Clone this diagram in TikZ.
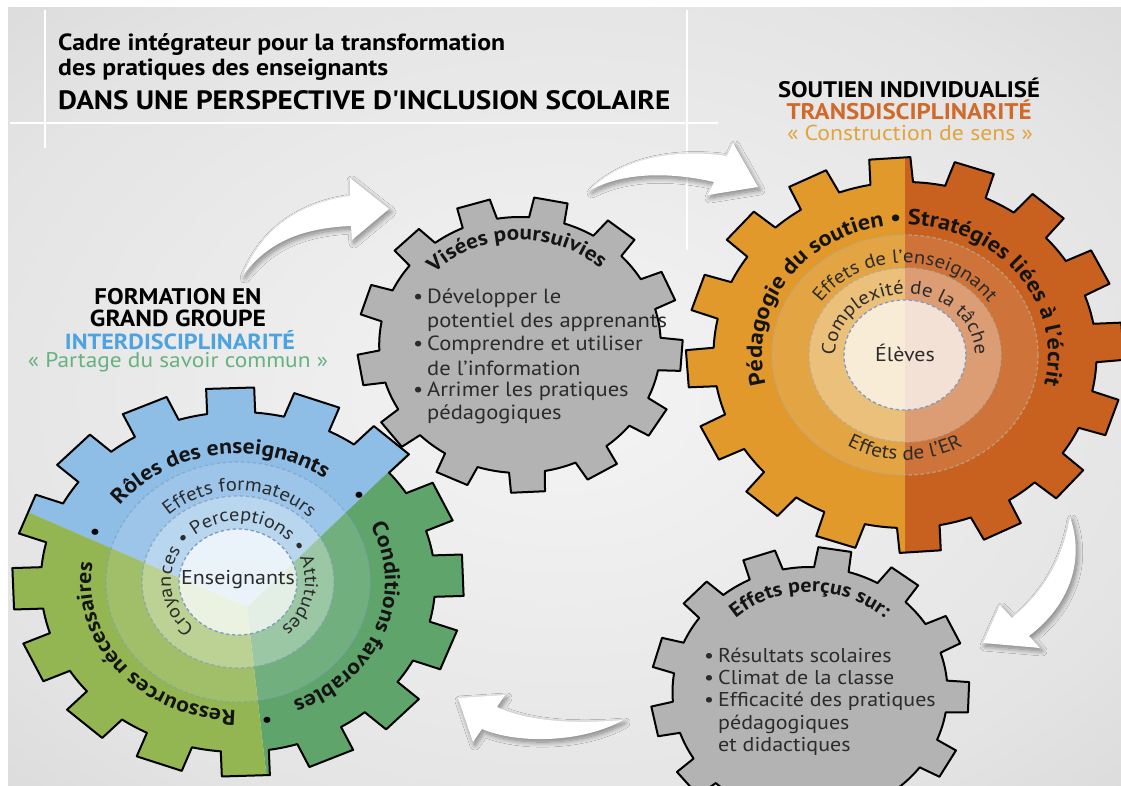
\documentclass[tikz,border=0pt]{standalone}
\usepackage{fontspec}
\setmainfont{PT Sans}[FakeStretch=1.1]
\usetikzlibrary{decorations.text,shadows.blur}
\definecolor{bgin}{HTML}{F4F4F4}
\definecolor{bgmid}{HTML}{E4E4E4}
\definecolor{bgout}{HTML}{CDCDCD}
\definecolor{geargrey}{HTML}{B3B3B3}
\definecolor{orl}{HTML}{E0992A}
\definecolor{orr}{HTML}{C8611F}
\definecolor{gblue}{HTML}{8EBDE6}
\definecolor{glight}{HTML}{93B652}
\definecolor{gdark}{HTML}{5EA46B}
\definecolor{dashblue}{HTML}{7F9CC0}
\definecolor{dashgrey}{HTML}{B8A890}
\definecolor{txtb}{HTML}{141414}
\definecolor{listc}{HTML}{2B2B2B}
\definecolor{transc}{HTML}{CF6A2A}
\definecolor{constc}{HTML}{E3A43C}
\definecolor{interc}{HTML}{4DA3E0}
\definecolor{partc}{HTML}{66B27F}
\pgfdeclareradialshading{bgshade}{\pgfpoint{0bp}{0bp}}{color(0bp)=(bgin); color(28bp)=(bgmid); color(50bp)=(bgout)}
% #1 path command, #2 teeth, #3 phase, #4 root radius, #5 tip radius
\newcommand\gear[5]{#1 ({#3-\rw}:#4) \foreach \i in {1,...,#2}{ -- ({#3+(\i-1)*360/#2-\tw}:#5) -- ({#3+(\i-1)*360/#2+\tw}:#5) -- ({#3+(\i-1)*360/#2+\rw}:#4) arc[start angle={#3+(\i-1)*360/#2+\rw}, end angle={#3+\i*360/#2-\rw}, radius=#4]} -- cycle;}
\begin{document}
\begin{tikzpicture}[x=1pt,y=1pt,
  gearline/.style={draw=black, line width=2pt, line join=round},
  arrowshape/.style={fill=white, draw=none, blur shadow={shadow blur steps=12, shadow xshift=2pt, shadow yshift=-3pt, shadow opacity=45, shadow blur radius=5pt}},
  dashring/.style={dash pattern=on 3.5pt off 2.5pt, line width=1.3pt},
  listtext/.style={inner sep=0pt, anchor=west, text=listc, font=\fontsize{20.5}{24}\selectfont},
  listtextb/.style={inner sep=0pt, anchor=west, text=listc, font=\fontsize{20}{23}\selectfont},
  headnode/.style={inner sep=0pt},
  centertext/.style={inner sep=0pt, text=listc, font=\fontsize{20}{23}\selectfont}
]
\useasboundingbox (0,0) rectangle (1121,786);
\fill[white] (0,0) rectangle (1121,786);
\shade[shading=bgshade] (8,0) rectangle (1121,778);
% title frame lines
\draw[white, line width=1.5pt] (45,776) -- (45,638);
\draw[white, line width=1.5pt] (10,663) -- (718,663);
\draw[white, line width=1.5pt] (687,776) -- (687,536);

% titles
\node[headnode, anchor=west] (title1) at (58,741) {\resizebox{447pt}{!}{\bfseries Cadre intégrateur pour la transformation}};
\node[headnode, anchor=west] (title2) at (58,716) {\resizebox{330pt}{!}{\bfseries des pratiques des enseignants}};
\node[headnode, anchor=west] (title3) at (58,686) {\resizebox{612pt}{!}{\bfseries DANS UNE PERSPECTIVE D\textquotesingle INCLUSION SCOLAIRE}};

\node[headnode] (soutien) at (909,698) {\resizebox{262pt}{!}{\bfseries SOUTIEN INDIVIDUALISÉ}};
\node[headnode, text=transc] (trans) at (909,676) {\resizebox{245pt}{!}{\bfseries TRANSDISCIPLINARITÉ}};
\node[headnode, text=constc] (constr) at (910,653) {\resizebox{246pt}{!}{« Construction de sens »}};

\node[headnode] (form) at (178,489) {\resizebox{167pt}{!}{\bfseries FORMATION EN}};
\node[headnode] (grand) at (178,468) {\resizebox{176pt}{!}{\bfseries GRAND GROUPE}};
\node[headnode, text=interc] (inter) at (180,446) {\resizebox{230pt}{!}{\bfseries INTERDISCIPLINARITÉ}};
\node[headnode, text=partc] (partage) at (178,424) {\resizebox{300pt}{!}{« Partage du savoir commun »}};

% arrows
\path[arrowshape] (243,511) .. controls (262,558) and (300,583) .. (350,590) -- (350,608) -- (389,577) -- (352,546) -- (351,560) .. controls (305,558) and (270,546) .. (243,511) -- cycle;
\path[arrowshape] (590,596) .. controls (620,626) and (670,638) .. (727,630) -- (733,643) -- (758,599) -- (708,591) -- (714,604) .. controls (670,614) and (625,614) .. (590,596) -- cycle;
\path[arrowshape] (1070,269) .. controls (1085,226) and (1070,181) .. (1029,150) -- (1040,138) -- (983,143) -- (1000,181) -- (1012,168) .. controls (1045,196) and (1062,226) .. (1070,269) -- cycle;
\path[arrowshape] (623,66) .. controls (575,62) and (530,64) .. (497,79) -- (505,91) -- (458,88) -- (473,44) -- (482,57) .. controls (520,41) and (585,44) .. (623,66) -- cycle;

% ---------- grey gear 1 : Visées poursuivies
\def\rw{7.3}\def\tw{6.0}
\gear{\draw[gearline, fill=geargrey, shift={(520,441)}, xscale=1.1]}{13}{79}{128}{148}
\path[decorate, shift={(520,441)}, decoration={text along path, text align=center, text={|\fontsize{21}{24}\selectfont\bfseries\color{txtb}|Visées poursuivies}}] (185:117 and 105) arc[start angle=185, end angle=-1, x radius=117, y radius=105];
\node[listtext] (v1) at (413,488) {\makebox[14pt][l]{•}Développer le};
\node[listtext] (v2) at (427,464) {potentiel des apprenants};
\node[listtext] (v3) at (413,441) {\makebox[14pt][l]{•}Comprendre et utiliser};
\node[listtext] (v4) at (427,418) {de l’information};
\node[listtext] (v5) at (413,395) {\makebox[14pt][l]{•}Arrimer les pratiques};
\node[listtext] (v6) at (427,372) {pédagogiques};

% ---------- green gear
\def\rw{7.0}\def\tw{6.1}
\begin{scope}
\gear{\clip[shift={(238,204)}, xscale=1.16]}{16}{92}{170}{195}
\fill[gblue] (247,179) -- (655,569) -- (247,800) -- (-335,431) -- cycle;
\fill[gdark] (247,179) -- (655,569) -- (700,-300) -- (307,-340) -- cycle;
\fill[glight] (247,179) -- (307,-340) -- (-300,-300) -- (-335,431) -- cycle;
\fill[white, opacity=.13] (238,204) ellipse[x radius=132, y radius=120];
\fill[white, opacity=.3] (238,204) ellipse[x radius=96, y radius=86];
\fill[white, opacity=.72] (238,204) ellipse[x radius=59, y radius=53];
\end{scope}
\draw[dashring, draw=dashblue, opacity=.6] (238,204) ellipse[x radius=132, y radius=120];
\draw[dashring, draw=dashblue, opacity=.7] (238,204) ellipse[x radius=96, y radius=86];
\draw[dashring, draw=dashblue] (238,204) ellipse[x radius=59, y radius=53];
\gear{\draw[gearline, shift={(238,204)}, xscale=1.16]}{16}{92}{170}{195}
\path[decorate, shift={(238,204)}, decoration={text along path, text align=center, text={|\fontsize{21.5}{24}\selectfont\bfseries\color{txtb}|Rôles des enseignants}}] (159:147 and 128) arc[start angle=159, end angle=39, x radius=147, y radius=128];
\path[decorate, shift={(238,204)}, decoration={text along path, text align=center, text={|\fontsize{21.5}{24}\selectfont\bfseries\color{txtb}|Conditions favorables}}] (39:147 and 128) arc[start angle=39, end angle=-80, x radius=147, y radius=128];
\path[decorate, shift={(238,204)}, decoration={text along path, text align=center, text={|\fontsize{21.5}{24}\selectfont\bfseries\color{txtb}|Ressources nécessaires}}] (-80:147 and 128) arc[start angle=-80, end angle=-201, x radius=147, y radius=128];
\node[inner sep=0pt, font=\fontsize{20}{24}\selectfont\bfseries] (gb1) at (95,252) {•};
\node[inner sep=0pt, font=\fontsize{20}{24}\selectfont\bfseries] (gb2) at (359,289) {•};
\node[inner sep=0pt, font=\fontsize{20}{24}\selectfont\bfseries] (gb3) at (267,64) {•};
\path[decorate, shift={(238,204)}, decoration={text along path, text align=center, text={|\fontsize{19}{22}\selectfont\color{listc}|Effets formateurs}}] (178:101 and 91) arc[start angle=178, end angle=0, x radius=101, y radius=91];
\path[decorate, shift={(238,204)}, decoration={text along path, text align=center, text={|\fontsize{18.5}{21}\selectfont\color{listc}|Croyances • Perceptions • Attitudes}}] (245:67 and 61) arc[start angle=245, end angle=-65, x radius=67, y radius=61];
\node[centertext] (ens) at (238,206) {Enseignants};

% ---------- orange gear
\def\rw{6.4}\def\tw{5.4}
\begin{scope}
\gear{\clip[shift={(905,431)}, xscale=1.107]}{16}{94}{173}{198}
\fill[orl] (600,150) rectangle (905,700);
\fill[orr] (905,150) rectangle (1200,700);
\fill[white, opacity=.12] (905,431) ellipse[x radius=133, y radius=120];
\fill[white, opacity=.3] (905,431) ellipse[x radius=96, y radius=87];
\fill[white, opacity=.7] (905,431) ellipse[x radius=61, y radius=55];
\end{scope}
\draw[dashring, draw=dashgrey, opacity=.8] (905,431) ellipse[x radius=133, y radius=120];
\draw[dashring, draw=dashgrey, opacity=.8] (905,431) ellipse[x radius=96, y radius=87];
\draw[dashring, draw=dashblue] (905,431) ellipse[x radius=61, y radius=55];
\gear{\draw[gearline, shift={(905,431)}, xscale=1.107]}{16}{94}{173}{198}
\path[decorate, shift={(905,431)}, decoration={text along path, text align=center, text={|\fontsize{22}{25}\selectfont\bfseries\color{txtb}|Pédagogie du soutien • Stratégies liées à l’écrit}}] (212:143 and 130) arc[start angle=212, end angle=-32, x radius=143, y radius=130];
\path[decorate, shift={(905,431)}, decoration={text along path, text align=center, text={|\fontsize{19}{22}\selectfont\color{listc}|Effets de l’enseignant}}] (185:102 and 92) arc[start angle=185, end angle=-5, x radius=102, y radius=92];
\path[decorate, shift={(905,431)}, decoration={text along path, text align=center, text={|\fontsize{19}{22}\selectfont\color{listc}|Complexité de la tâche}}] (210:70 and 61) arc[start angle=210, end angle=-30, x radius=70, y radius=61];
\path[decorate, shift={(905,431)}, decoration={text along path, text align=center, text={|\fontsize{19.5}{22}\selectfont\color{listc}|Effets de l’ER}}] (220:115 and 105) arc[start angle=220, end angle=320, x radius=115, y radius=105];
\node[centertext] (eleves) at (905,433) {Élèves};

% ---------- grey gear 2 : Effets perçus
\def\rw{7.3}\def\tw{6.0}
\gear{\draw[gearline, fill=geargrey, shift={(810,94)}, xscale=1.1]}{13}{81}{125}{145}
\path[decorate, shift={(810,94)}, decoration={text along path, text align=center, text={|\fontsize{20}{23}\selectfont\bfseries\color{txtb}|Effets perçus sur:}}] (182:110 and 100) arc[start angle=182, end angle=-2, x radius=110, y radius=100];
\node[listtextb] (e1) at (704,131) {\makebox[14pt][l]{•}Résultats scolaires};
\node[listtextb] (e2) at (704,108) {\makebox[14pt][l]{•}Climat de la classe};
\node[listtextb] (e3) at (704,85) {\makebox[14pt][l]{•}Efficacité des pratiques};
\node[listtextb] (e4) at (718,62) {pédagogiques};
\node[listtextb] (e5) at (718,40) {et didactiques};
\end{tikzpicture}
\end{document}
